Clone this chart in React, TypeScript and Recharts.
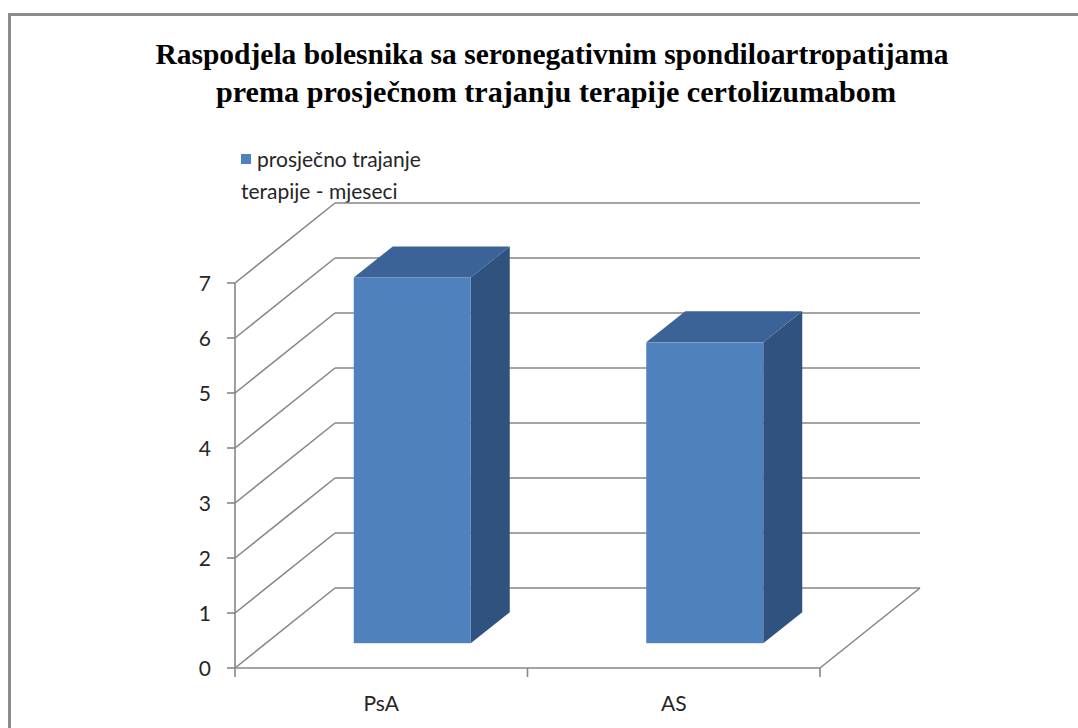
import { BarChart, Bar, XAxis, YAxis, CartesianGrid } from "recharts";

// data
const categories = ["PsA", "AS"];
const durationMonths = [6.65, 5.47];
const yTicks = [0, 1, 2, 3, 4, 5, 6, 7];
const seriesName = "prosječno trajanje terapije - mjeseci";
const legendLines = ["prosječno trajanje", "terapije - mjeseci"];
const titleLines = [
  "Raspodjela bolesnika sa seronegativnim spondiloartropatijama",
  "prema prosječnom trajanju terapije certolizumabom",
];

const chartData = categories.map((name, i) => ({ name, value: durationMonths[i] }));

const W = 1078;
const H = 728;
const PLOT_LEFT = 235;
const PLOT_RIGHT = 820;
const PLOT_TOP = 283;
const PLOT_BOTTOM = 668;
const Y_AXIS_W = 60;
const X_AXIS_H = 30;

// oblique 3d projection
const DEPTH_X = 100;
const DEPTH_Y = 80;
const BAR_FRONT = 0.31; // bar front face position inside floor depth
const BAR_DEPTH_X = 39;
const BAR_DEPTH_Y = 31;

const GRID = "#868686";
const FRONT = "#4f81bd";
const TOP = "#3b6397";
const SIDE = "#30527e";
const FONT = "Lato, 'Open Sans', sans-serif";

function GridLine(props: any) {
  const { x1, x2, y1 } = props;
  const isFloor = Math.abs(y1 - PLOT_BOTTOM) < 1;
  return (
    <g>
      <line x1={x1} y1={y1} x2={x1 + DEPTH_X} y2={y1 - DEPTH_Y} stroke={GRID} strokeWidth={1.6} />
      <line x1={x1 + DEPTH_X} y1={y1 - DEPTH_Y} x2={x2 + DEPTH_X} y2={y1 - DEPTH_Y} stroke={GRID} strokeWidth={1.6} />
      {isFloor && (
        <line x1={x2} y1={y1} x2={x2 + DEPTH_X} y2={y1 - DEPTH_Y} stroke={GRID} strokeWidth={1.6} />
      )}
    </g>
  );
}

function Box3D(props: any) {
  const { x, y, width, height } = props;
  const fx = x + DEPTH_X * BAR_FRONT;
  const fy = y - DEPTH_Y * BAR_FRONT;
  const dx = BAR_DEPTH_X;
  const dy = BAR_DEPTH_Y;
  return (
    <g>
      <polygon
        points={`${fx + width},${fy} ${fx + width + dx},${fy - dy} ${fx + width + dx},${fy + height - dy} ${fx + width},${fy + height}`}
        fill={SIDE}
      />
      <polygon
        points={`${fx},${fy} ${fx + dx},${fy - dy} ${fx + width + dx},${fy - dy} ${fx + width},${fy}`}
        fill={TOP}
      />
      <rect x={fx} y={fy} width={width} height={height} fill={FRONT} />
    </g>
  );
}

function XTick(props: any) {
  const { x, y, payload, index } = props;
  const band = (PLOT_RIGHT - PLOT_LEFT) / categories.length;
  const axisY = y - 8;
  return (
    <g>
      <line x1={x - band / 2} y1={axisY} x2={x - band / 2} y2={axisY + 9} stroke={GRID} strokeWidth={1.6} />
      {index === categories.length - 1 && (
        <line x1={x + band / 2} y1={axisY} x2={x + band / 2} y2={axisY + 9} stroke={GRID} strokeWidth={1.6} />
      )}
      <text x={x} y={axisY + 43} textAnchor="middle" fontFamily={FONT} fontSize={21} fill="#262626">
        {payload.value}
      </text>
    </g>
  );
}

function YTick(props: any) {
  const { x, y, payload } = props;
  return (
    <text x={x} y={y} dy={7.5} textAnchor="end" fontFamily={FONT} fontSize={21} fill="#262626">
      {payload.value}
    </text>
  );
}

export default function App() {
  return (
    <div style={{ position: "absolute", left: 0, top: 0, width: W, height: H, background: "#fff", overflow: "hidden" }}>
      <svg width={W} height={H} style={{ position: "absolute", left: 0, top: 0 }}>
        <rect x={9.5} y={14.5} width={W + 20} height={H + 20} fill="none" stroke="#8c8c8c" strokeWidth={3} />
        <text
          x={552}
          y={64}
          textAnchor="middle"
          fontFamily="'Liberation Serif', 'Times New Roman', serif"
          fontWeight="bold"
          fontSize={29}
          textLength={793}
          lengthAdjust="spacingAndGlyphs"
          fill="#000"
        >
          {titleLines[0]}
        </text>
        <text
          x={556}
          y={102}
          textAnchor="middle"
          fontFamily="'Liberation Serif', 'Times New Roman', serif"
          fontWeight="bold"
          fontSize={29}
          textLength={680}
          lengthAdjust="spacingAndGlyphs"
          fill="#000"
        >
          {titleLines[1]}
        </text>
      </svg>
      <div
        style={{
          position: "absolute",
          left: 241,
          top: 143,
          fontFamily: FONT,
          fontSize: 21,
          color: "#262626",
          lineHeight: "32px",
          whiteSpace: "nowrap",
        }}
      >
        <div style={{ display: "flex", alignItems: "center" }}>
          <span style={{ width: 10, height: 10, background: FRONT, display: "inline-block", marginRight: 6 }} />
          {legendLines[0]}
        </div>
        <div>{legendLines[1]}</div>
      </div>
      <div style={{ position: "absolute", left: 0, top: 0 }}>
        <BarChart
          width={W}
          height={H}
          data={chartData}
          margin={{ top: PLOT_TOP, right: W - PLOT_RIGHT, bottom: H - PLOT_BOTTOM - X_AXIS_H, left: PLOT_LEFT - Y_AXIS_W }}
          barCategoryGap="30%"
        >
          <CartesianGrid vertical={false} horizontal={(p: any) => <GridLine key={p.key} {...p} />} />
          <XAxis
            dataKey="name"
            height={X_AXIS_H}
            axisLine={{ stroke: GRID, strokeWidth: 1.6 }}
            tickLine={false}
            tick={<XTick />}
            interval={0}
          />
          <YAxis
            width={Y_AXIS_W}
            domain={[0, 7]}
            ticks={yTicks}
            interval={0}
            axisLine={{ stroke: GRID, strokeWidth: 1.6 }}
            tickLine={{ stroke: GRID, strokeWidth: 1.6 }}
            tickSize={8}
            tickMargin={16}
            tick={<YTick />}
          />
          <Bar dataKey="value" name={seriesName} shape={<Box3D />} isAnimationActive={false} />
        </BarChart>
      </div>
    </div>
  );
}
